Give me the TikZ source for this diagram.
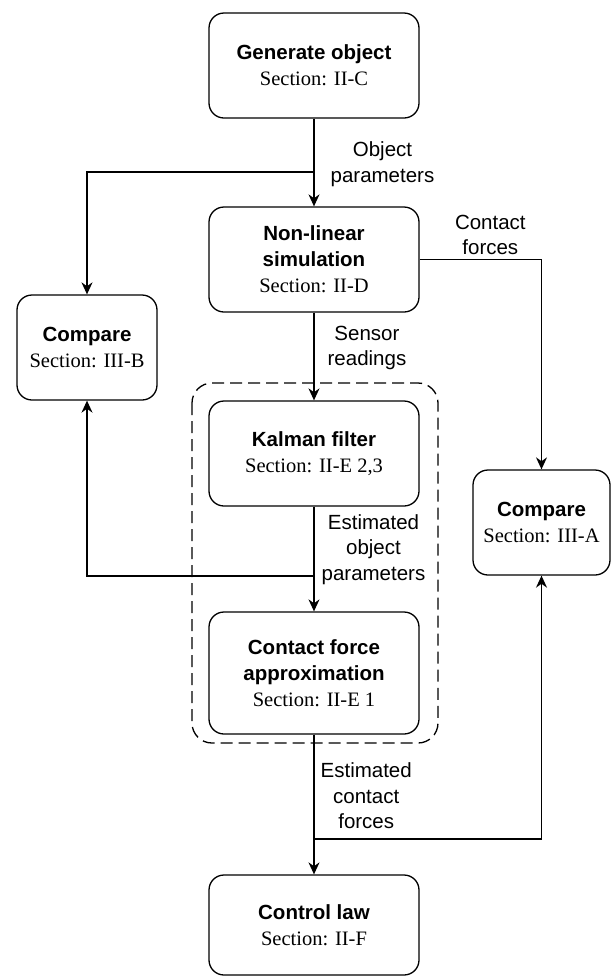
\documentclass[tikz,border=0pt]{standalone}
\usepackage{fontspec}
\setmainfont{Liberation Sans}
\newfontfamily\timesfont{Liberation Serif}
\usetikzlibrary{arrows.meta,positioning}
\begin{document}
\begin{tikzpicture}[x=1pt,y=-1pt,>={Stealth[length=12pt,width=11pt]},line width=1.3pt,
  block/.style={draw,rounded corners=15pt,align=center,inner sep=0pt,minimum width=210pt,
    minimum height=105pt,font=\fontsize{20.5}{26}\selectfont},
  lbl/.style={align=center,inner sep=0pt,font=\fontsize{20.5}{25.5}\selectfont}]
\useasboundingbox (0,0) rectangle (611,978);
\node[block] (gen) at (314,65.5) {\textbf{Generate object}\\{\timesfont Section: II-C}};
\node[block] (nl) at (314,259.5) {\textbf{Non-linear}\\\textbf{simulation}\\{\timesfont Section: II-D}};
\node[block,minimum width=140pt] (cmpB) at (87,347.5) {\textbf{Compare}\\{\timesfont Section: III-B}};
\node[block] (kal) at (314,453.5) {\textbf{Kalman filter}\\{\timesfont Section: II-E 2,3}};
\node[block,minimum width=137pt] (cmpA) at (541.5,522.5) {\textbf{Compare}\\{\timesfont Section: III-A}};
\node[block,minimum height=122pt] (cfa) at (314,673) {\textbf{Contact force}\\\textbf{approximation}\\{\timesfont Section: II-E 1}};
\node[block,minimum height=100pt] (ctl) at (314,925) {\textbf{Control law}\\{\timesfont Section: II-F}};
% dashed group round the estimator
\draw[dash pattern=on 12pt off 6pt,rounded corners=20pt] (192,383) rectangle (438,743);
\coordinate (br1) at (314,172);
\coordinate (br2) at (314,576);
\coordinate (br3) at (314,839);
\draw[->] (gen) -- node[lbl,pos=.52,right=16pt] {Object\\parameters} (nl);
\draw[->] (br1) -| (cmpB);
\draw[->] (nl.east) -| node[lbl,pos=.29,above=4pt] {Contact\\forces} (cmpA);
\draw[->] (nl) -- node[lbl,pos=.4,right=13pt] {Sensor\\readings} (kal);
\draw[->] (kal) -- node[lbl,pos=.41,right=7pt] {Estimated\\object\\parameters} (cfa);
\draw[->] (br2) -| (cmpB);
\draw[->] (cfa) -- node[lbl,pos=.44,right=6pt] {Estimated\\contact\\forces} (ctl);
\draw[->] (br3) -| (cmpA);
\end{tikzpicture}
\end{document}
